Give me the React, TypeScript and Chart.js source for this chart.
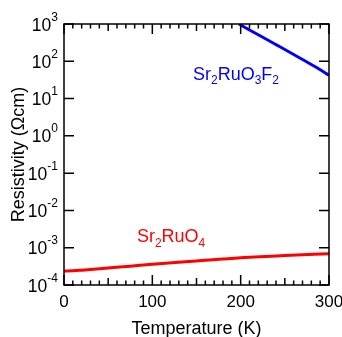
import React, { useEffect, useRef } from "react";
import { Chart, registerables } from "chart.js";

Chart.register(...registerables);

// Sr2RuO4 (red)
const redT = [0, 10, 20, 30, 50, 75, 100, 150, 200, 250, 300];
const redRho = [2.37e-4, 2.4e-4, 2.49e-4, 2.6e-4, 2.86e-4, 3.19e-4, 3.59e-4, 4.4e-4, 5.36e-4, 6.18e-4, 6.9e-4];
// Sr2RuO3F2 (blue)
const blueT = [198, 210, 225, 240, 255, 270, 285, 300];
const blueRho = [1000, 690, 440, 280, 178, 112, 70, 42];

const xTickLabels = [0, 100, 200, 300];
const yTickExponents = [-4, -3, -2, -1, 0, 1, 2, 3];
const redLabel = ["Sr", "2", "RuO", "4"];
const blueLabel = ["Sr", "2", "RuO", "3", "F", "2"];
const xTitle = "Temperature (K)";
const yTitle = "Resistivity (\u03A9cm)";

const FONT = "'Liberation Sans', Arial, sans-serif";

function drawSubText(ctx: CanvasRenderingContext2D, parts: string[], x: number, y: number, size: number, color: string) {
  ctx.save();
  ctx.fillStyle = color;
  ctx.textBaseline = "alphabetic";
  ctx.textAlign = "left";
  let cx = x;
  parts.forEach((p, i) => {
    const sub = i % 2 === 1;
    ctx.font = `${sub ? 12 : size}px ${FONT}`;
    ctx.fillText(p, cx, sub ? y + 4.4 : y);
    cx += ctx.measureText(p).width;
  });
  ctx.restore();
}

const framePlugin = {
  id: "framePlugin",
  afterDraw(chart: any) {
    const ctx: CanvasRenderingContext2D = chart.ctx;
    const { left, right, top, bottom } = chart.chartArea;
    const xs = chart.scales.x;
    const ys = chart.scales.y;
    ctx.save();
    ctx.strokeStyle = "#000";
    ctx.lineWidth = 1.5;
    ctx.strokeRect(left, top, right - left, bottom - top);
    // x ticks (bottom & top), inward
    for (let t = 0; t <= 300; t += 10) {
      const px = xs.getPixelForValue(t);
      const len = t % 100 === 0 ? 10 : t % 50 === 0 ? 7 : 4.5;
      ctx.beginPath();
      ctx.moveTo(px, bottom);
      ctx.lineTo(px, bottom - len);
      ctx.moveTo(px, top);
      ctx.lineTo(px, top + len);
      ctx.stroke();
    }
    // y ticks (left & right), inward
    yTickExponents.forEach((e) => {
      const py = ys.getPixelForValue(Math.pow(10, e));
      ctx.beginPath();
      ctx.moveTo(left, py);
      ctx.lineTo(left + 10, py);
      ctx.moveTo(right, py);
      ctx.lineTo(right - 10, py);
      ctx.stroke();
    });
    // x tick labels
    ctx.fillStyle = "#000";
    ctx.font = `17px ${FONT}`;
    ctx.textAlign = "center";
    ctx.textBaseline = "middle";
    xTickLabels.forEach((t) => {
      ctx.fillText(String(t), xs.getPixelForValue(t), bottom + 17);
    });
    // y tick labels 10^n
    yTickExponents.forEach((e) => {
      const py = ys.getPixelForValue(Math.pow(10, e));
      ctx.font = `12px ${FONT}`;
      ctx.textAlign = "left";
      ctx.textBaseline = "alphabetic";
      const exp = String(e);
      const ew = ctx.measureText(exp).width;
      const expX = left - 6 - ew;
      ctx.font = `17.5px ${FONT}`;
      ctx.textAlign = "right";
      ctx.fillText("10", expX, py + 6.5);
      ctx.font = `12px ${FONT}`;
      ctx.textAlign = "left";
      ctx.fillText(exp, expX, py - 3.5);
    });
    // titles
    ctx.font = `18px ${FONT}`;
    ctx.textAlign = "center";
    ctx.textBaseline = "middle";
    ctx.fillText(xTitle, (left + right) / 2, bottom + 44);
    ctx.save();
    ctx.translate(19, (top + bottom) / 2);
    ctx.rotate(-Math.PI / 2);
    ctx.fillText(yTitle, 0, 0);
    ctx.restore();
    // series labels
    drawSubText(ctx, blueLabel, xs.getPixelForValue(146), ys.getPixelForValue(Math.pow(10, 1.5)), 18, "#0000ff");
    drawSubText(ctx, redLabel, xs.getPixelForValue(82.5), ys.getPixelForValue(Math.pow(10, -2.85)), 18, "#ff0000");
    ctx.restore();
  },
};

export default function App() {
  const ref = useRef<HTMLCanvasElement | null>(null);
  useEffect(() => {
    document.body.style.margin = "0";
    const chart = new Chart(ref.current as HTMLCanvasElement, {
      type: "line",
      data: {
        datasets: [
          {
            label: "Sr2RuO4",
            data: redT.map((t, i) => ({ x: t, y: redRho[i] })),
            borderColor: "#ff0000",
            borderWidth: 3,
            pointRadius: 0,
            cubicInterpolationMode: "monotone",
          },
          {
            label: "Sr2RuO3F2",
            data: blueT.map((t, i) => ({ x: t, y: blueRho[i] })),
            borderColor: "#0000ff",
            borderWidth: 3,
            pointRadius: 0,
            cubicInterpolationMode: "monotone",
          },
        ],
      },
      options: {
        responsive: false,
        animation: false,
        layout: { padding: { left: 64, top: 24, right: 13, bottom: 52 } },
        plugins: { legend: { display: false }, tooltip: { enabled: false } },
        scales: {
          x: { type: "linear", min: 0, max: 300, display: false },
          y: { type: "logarithmic", min: 1e-4, max: 1e3, display: false },
        },
      },
      plugins: [framePlugin],
    } as any);
    return () => chart.destroy();
  }, []);
  return (
    <div style={{ position: "absolute", left: 0, top: 0, width: 342, height: 337, background: "#fff" }}>
      <canvas ref={ref} width={342} height={337} />
    </div>
  );
}
